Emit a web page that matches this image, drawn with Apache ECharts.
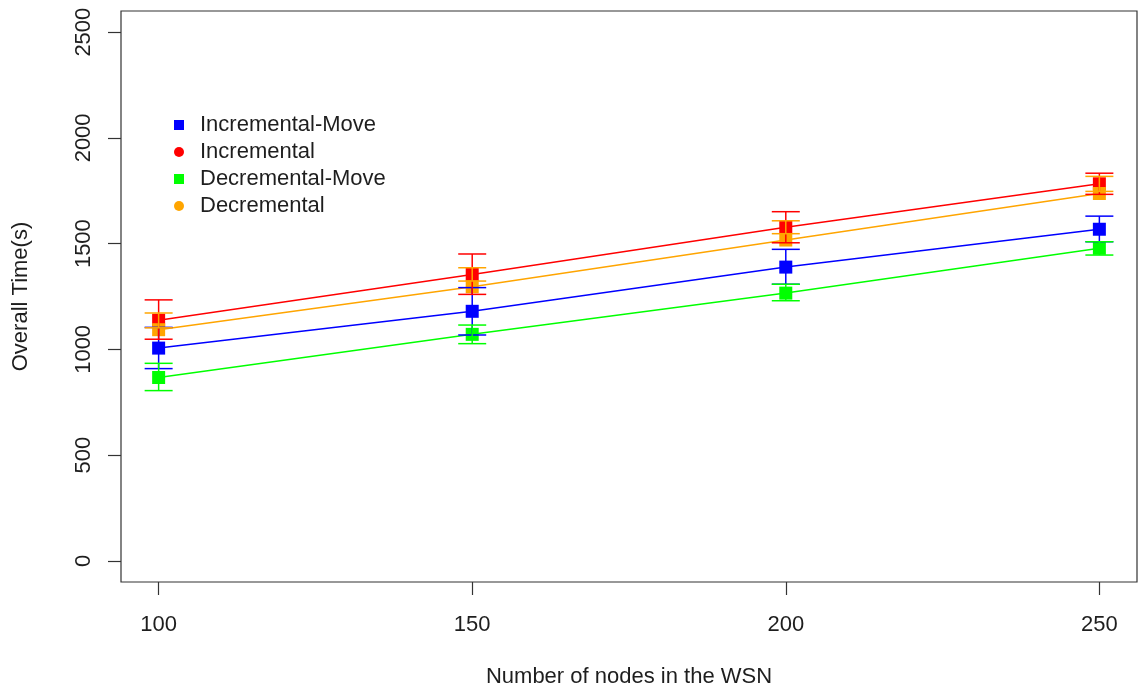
<!DOCTYPE html>
<html>
<head>
<meta charset="utf-8">
<script src="https://cdn.jsdelivr.net/npm/echarts@6/dist/echarts.min.js"></script>
<style>
  html, body { margin: 0; padding: 0; background: #ffffff; }
  #chart { width: 1138px; height: 691px; }
</style>
</head>
<body>
<div id="chart"></div>
<script>
// Network sizes (x positions)
const nodes = [100, 150, 200, 250];
const xTicks = [100, 150, 200, 250];
const yTicks = [0, 500, 1000, 1500, 2000, 2500];

// Mean overall time and error-bar ends for each strategy
const incMoveMean = [1006, 1180, 1389, 1568];
const incMoveLow  = [909, 1068, 1308, 1509];
const incMoveHigh = [1104, 1292, 1473, 1630];

const incMean = [1138, 1354, 1578, 1783];
const incLow  = [1048, 1260, 1504, 1733];
const incHigh = [1234, 1451, 1651, 1833];

const decMoveMean = [867, 1071, 1266, 1478];
const decMoveLow  = [805, 1027, 1230, 1446];
const decMoveHigh = [934, 1115, 1308, 1509];

const decMean = [1093, 1296, 1517, 1737];
const decLow  = [1102, 1323, 1547, 1747];
const decHigh = [1172, 1386, 1608, 1818];

const groups = [
  { name: 'Incremental-Move', color: '#0000ff', icon: 'rect',   mean: incMoveMean, low: incMoveLow, high: incMoveHigh },
  { name: 'Incremental',      color: '#ff0000', icon: 'circle', mean: incMean,     low: incLow,     high: incHigh },
  { name: 'Decremental-Move', color: '#00ff00', icon: 'rect',   mean: decMoveMean, low: decMoveLow, high: decMoveHigh },
  { name: 'Decremental',      color: '#ffa500', icon: 'circle', mean: decMean,     low: decLow,     high: decHigh }
];

const FONT = '"Liberation Sans", Arial, Helvetica, sans-serif';
const INK = '#1e1e1e';

const series = [];

// connecting lines (drawn underneath the markers)
groups.forEach(g => {
  series.push({
    type: 'line',
    name: g.name,
    data: nodes.map((x, i) => [x, g.mean[i]]),
    showSymbol: false,
    symbol: 'none',
    silent: true,
    z: 1,
    lineStyle: { color: g.color, width: 1.5 },
    itemStyle: { color: g.color }
  });
});

// square markers at the means
groups.forEach(g => {
  series.push({
    type: 'scatter',
    name: g.name,
    data: nodes.map((x, i) => [x, g.mean[i]]),
    symbol: 'rect',
    symbolSize: 13,
    z: 2,
    itemStyle: { color: g.color, opacity: 1 }
  });
});

// error bars with caps
groups.forEach(g => {
  series.push({
    type: 'custom',
    name: g.name + ' err',
    z: 3,
    silent: true,
    data: nodes.map((x, i) => [x, g.low[i], g.high[i]]),
    renderItem: function (params, api) {
      const x = api.value(0);
      const lo = api.coord([x, api.value(1)]);
      const hi = api.coord([x, api.value(2)]);
      const hw = 14;
      const style = { stroke: g.color, lineWidth: 1.5, fill: null };
      return {
        type: 'group',
        children: [
          { type: 'line', shape: { x1: lo[0], y1: lo[1], x2: hi[0], y2: hi[1] }, style: style },
          { type: 'line', shape: { x1: lo[0] - hw, y1: lo[1], x2: lo[0] + hw, y2: lo[1] }, style: style },
          { type: 'line', shape: { x1: hi[0] - hw, y1: hi[1], x2: hi[0] + hw, y2: hi[1] }, style: style }
        ]
      };
    }
  });
});

const chart = echarts.init(document.getElementById('chart'), null, { renderer: 'canvas' });
chart.setOption({
  animation: false,
  backgroundColor: '#ffffff',
  textStyle: { fontFamily: FONT },
  grid: {
    left: 121, top: 11, width: 1016, height: 571,
    containLabel: false,
    outerBoundsMode: 'none',
    show: true, borderColor: '#333333', borderWidth: 1.2, backgroundColor: 'transparent'
  },
  legend: {
    orient: 'vertical',
    left: 169,
    top: 109,
    itemWidth: 10,
    itemHeight: 10,
    itemGap: 5,
    selectedMode: false,
    textStyle: { fontSize: 22, color: INK, fontFamily: FONT, lineHeight: 22, padding: [0, 0, 0, 11] },
    data: groups.map(g => ({ name: g.name, icon: g.icon, itemStyle: { color: g.color } }))
  },
  xAxis: {
    type: 'value',
    min: 94,
    max: 256,
    name: 'Number of nodes in the WSN',
    nameLocation: 'middle',
    nameGap: 84,
    nameTextStyle: { fontSize: 22, color: INK, fontFamily: FONT },
    axisLine: { show: false, onZero: false },
    axisTick: { show: true, inside: false, customValues: xTicks, length: 13, lineStyle: { color: '#333333', width: 1.2 } },
    axisLabel: { customValues: xTicks, fontSize: 22, color: INK, margin: 32, fontFamily: FONT, formatter: v => String(v) },
    splitLine: { show: false }
  },
  yAxis: {
    type: 'value',
    min: -100,
    max: 2600,
    name: 'Overall Time(s)',
    nameLocation: 'middle',
    nameGap: 89,
    nameRotate: 90,
    nameTextStyle: { fontSize: 22, color: INK, fontFamily: FONT },
    axisLine: { show: false, onZero: false },
    axisTick: { show: true, inside: false, customValues: yTicks, length: 13, lineStyle: { color: '#333333', width: 1.2 } },
    axisLabel: { customValues: yTicks, fontSize: 22, color: INK, margin: 26, rotate: 90, fontFamily: FONT, formatter: v => String(v) },
    splitLine: { show: false }
  },
  series: series
});
</script>
</body>
</html>
